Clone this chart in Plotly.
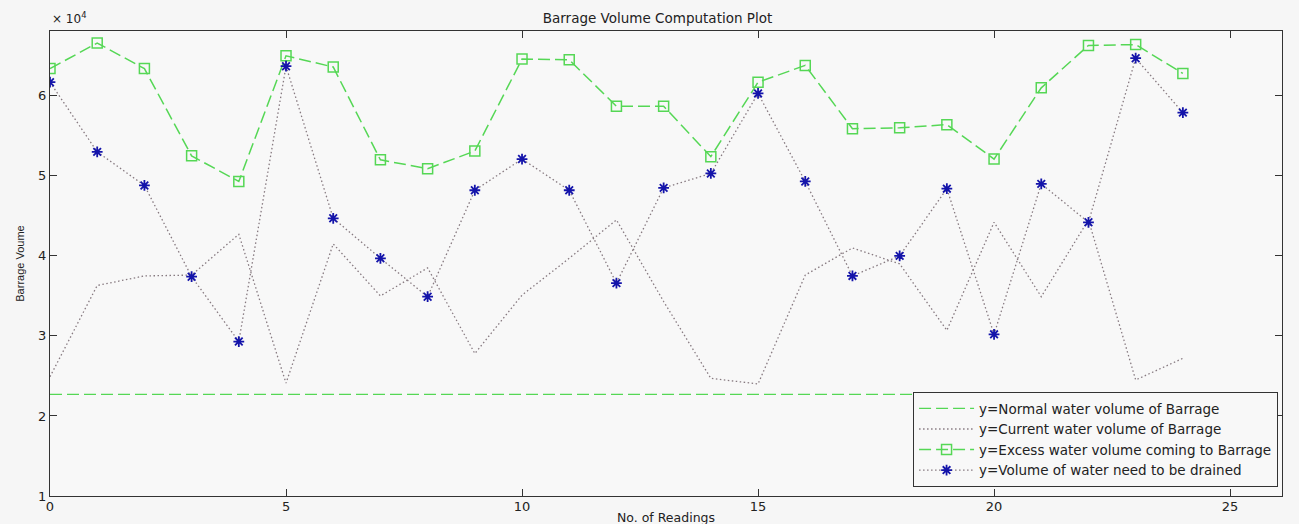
import plotly.graph_objects as go

readings = list(range(25))
normal_volume = [22700] * 25
current_volume = [24900, 36300, 37500, 37600, 42700, 24100, 41500, 35000, 38500, 27800,
                  35100, 39700, 44500, 34300, 24700, 24000, 37600, 41000, 39000, 30700,
                  44200, 34900, 44500, 24500, 27200]
excess_volume = [63400, 66600, 63400, 52500, 49300, 65000, 63600, 52000, 50900, 53100,
                 64600, 64500, 58700, 58700, 52400, 61700, 63800, 55900, 56000, 56400,
                 52100, 61000, 66300, 66400, 62800]
drained_volume = [61700, 53000, 48800, 37400, 29300, 63700, 44700, 39700, 34900, 48200,
                  52100, 48200, 36600, 48500, 50300, 60300, 49300, 37500, 40000, 48400,
                  30200, 49000, 44200, 64700, 57900]
y_ticks = [10000, 20000, 30000, 40000, 50000, 60000]
y_tick_labels = ["1", "2", "3", "4", "5", "6"]
x_ticks = [0, 5, 10, 15, 20, 25]

GREEN = "rgb(85,215,85)"
DOT = "rgb(135,122,128)"
NAVY = "rgb(20,20,170)"
BG = "#f6f6f6"
FONT = "DejaVu Sans, Verdana, sans-serif"
FONT_NARROW = "Liberation Sans, Arial, sans-serif"

fig = go.Figure()
fig.add_trace(go.Scatter(x=readings, y=normal_volume, mode="lines",
                         name="y=Normal water volume of Barrage",
                         line=dict(color=GREEN, width=1.3, dash="12px,5px")))
fig.add_trace(go.Scatter(x=readings, y=current_volume, mode="lines",
                         name="y=Current water volume of Barrage",
                         line=dict(color=DOT, width=1.3, dash="1.5px,2.5px")))
fig.add_trace(go.Scatter(x=readings, y=excess_volume, mode="lines+markers",
                         name="y=Excess water volume coming to Barrage",
                         line=dict(color=GREEN, width=1.5, dash="12px,5px"),
                         marker=dict(symbol="square-open", size=10, color=GREEN,
                                     line=dict(width=1.5, color=GREEN))))
fig.add_trace(go.Scatter(x=readings, y=drained_volume, mode="lines+markers",
                         name="y=Volume of water need to be drained",
                         line=dict(color=DOT, width=1.3, dash="1.5px,2.5px"),
                         marker=dict(symbol="asterisk-open", size=9, color=NAVY,
                                     line=dict(width=1.8, color=NAVY))))

axis_common = dict(showgrid=False, zeroline=False, showline=True, linecolor="#333",
                   linewidth=1.2, mirror="ticks", ticks="inside", ticklen=7,
                   tickcolor="#333", automargin=False,
                   tickfont=dict(family=FONT, size=13, color="#222"))

fig.update_xaxes(range=[0, 26.1], tickvals=x_ticks, ticklabelstandoff=-2,
                 title=dict(text="No. of Readings", font=dict(family=FONT, size=12.5, color="#222"),
                            standoff=0),
                 **axis_common)
fig.update_yaxes(range=[10000, 68100], tickvals=y_ticks, ticktext=y_tick_labels,
                 ticklabelstandoff=0,
                 title=dict(text="Barrage Voume", font=dict(family=FONT_NARROW, size=11, color="#222"),
                            standoff=11),
                 **axis_common)

fig.add_annotation(text="× 10<sup>4</sup>", xref="paper", yref="paper", x=0.0, y=1.0,
                   xanchor="left", yanchor="bottom", showarrow=False, yshift=3,
                   font=dict(family=FONT, size=12, color="#222"))

fig.update_layout(
    width=1299, height=524,
    margin=dict(l=42, r=25, t=23, b=36, autoexpand=False),
    paper_bgcolor=BG, plot_bgcolor="#f8f8f8",
    title=dict(text="Barrage Volume Computation Plot", x=0.5, xanchor="center",
               y=0.99, yanchor="top", font=dict(family=FONT, size=13.5, color="#222")),
    legend=dict(x=0.9968, y=0.019, xanchor="right", yanchor="bottom",
                bgcolor="#f8f8f8", bordercolor="#333", borderwidth=1,
                font=dict(family=FONT, size=13.5, color="#222"),
                itemwidth=55, tracegroupgap=0),
    showlegend=True,
)

fig.write_html("out.html", post_script="document.body.style.background='%s';" % BG)
